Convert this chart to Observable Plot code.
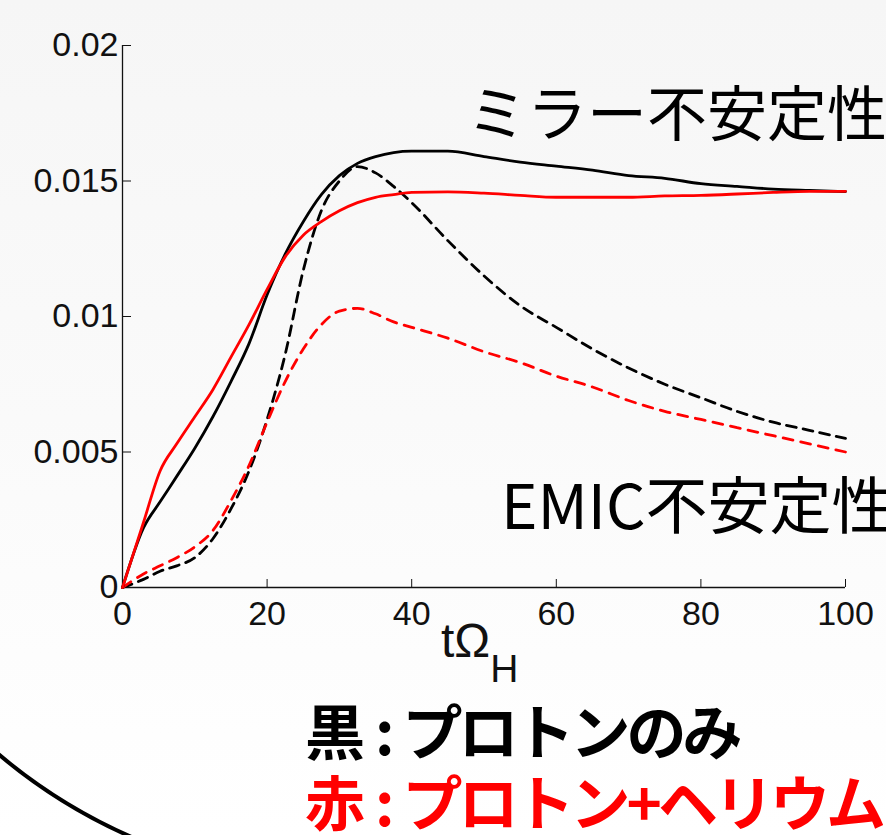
<!DOCTYPE html>
<html>
<head>
<meta charset="utf-8">
<script src="https://cdn.jsdelivr.net/npm/d3@7"></script>
<script src="https://cdn.jsdelivr.net/npm/@observablehq/plot@0.6"></script>
<style>
  html, body { margin: 0; padding: 0; }
  body { width: 886px; height: 835px; overflow: hidden; }
  #wrap { position: relative; width: 886px; height: 835px;
    background: linear-gradient(to bottom, #f6f6f6 0%, #fafafa 50%, #fefefe 88%, #ffffff 100%); }
  #wrap svg { position: absolute; left: 0; top: 0; }
</style>
</head>
<body>
<div id="wrap"></div>
<script>
// time axis tΩH
const tValues = [0, 2.9, 5.2, 7.5, 10, 12.5, 15, 17.5, 20, 22.5, 25, 27.5, 30, 32.5, 35, 37.5, 40, 45, 50, 55, 60, 65, 70, 75, 80, 85, 90, 95, 100];
// black solid: proton only, mirror instability
const protonMirror = [0, 0.0022, 0.00316, 0.0041, 0.00514, 0.0063, 0.0076, 0.0090, 0.0108, 0.0123, 0.0135, 0.0145, 0.0152, 0.01565, 0.0159, 0.01605, 0.0161, 0.0161, 0.0159, 0.0157, 0.01555, 0.0154, 0.0152, 0.0151, 0.0149, 0.0148, 0.0147, 0.01465, 0.01461];
// red solid: proton + helium, mirror instability
const heliumMirror = [0, 0.0024, 0.0043, 0.0053, 0.0063, 0.0073, 0.0085, 0.0097, 0.0110, 0.0122, 0.0130, 0.0135, 0.0139, 0.0142, 0.0144, 0.0145, 0.01458, 0.0146, 0.01455, 0.01447, 0.0144, 0.0144, 0.0144, 0.01445, 0.01447, 0.01452, 0.01458, 0.01462, 0.01462];
// black dashed: proton only, EMIC instability
const protonEMIC = [0, 0.0003, 0.0006, 0.0008, 0.0011, 0.0018, 0.0029, 0.0043, 0.0062, 0.0086, 0.0117, 0.0139, 0.0150, 0.01553, 0.0153, 0.0148, 0.0142, 0.0128, 0.0115, 0.0104, 0.0096, 0.0088, 0.0081, 0.0075, 0.0070, 0.0065, 0.0061, 0.0058, 0.0055];
// red dashed: proton + helium, EMIC instability
const heliumEMIC = [0, 0.0005, 0.0008, 0.0011, 0.0015, 0.0021, 0.0032, 0.0045, 0.0061, 0.0076, 0.0088, 0.0097, 0.0102, 0.0103, 0.0101, 0.0098, 0.0096, 0.0092, 0.0087, 0.0083, 0.0078, 0.0074, 0.0069, 0.0065, 0.0062, 0.0059, 0.0056, 0.0053, 0.0050];

const xTicks = [0, 20, 40, 60, 80, 100];
const yTicks = [0, 0.005, 0.01, 0.015, 0.02];
const yTickLabels = ["0", "0.005", "0.01", "0.015", "0.02"];

const labelMirror = "ミラー不安定性";
const labelEMIC = "EMIC不安定性";
const legendBlackKey = "黒", legendBlackText = "プロトンのみ";
const legendRedKey = "赤", legendRedText = "プロトン+ヘリウム";

const rows = (vals) => tValues.map((t, i) => ({t, v: vals[i]}));

const lineOpts = {x: "t", y: "v", curve: "monotone-x", strokeWidth: 2.8};
const tickFont = "'Liberation Sans', Arial, Helvetica, sans-serif";

const chart = Plot.plot({
  width: 886, height: 835,
  marginLeft: 122, marginRight: 41, marginTop: 45, marginBottom: 248,
  style: {background: "transparent", fontFamily: tickFont, fontSize: "34px", color: "#111", overflow: "visible"},
  x: {domain: [0, 100]},
  y: {domain: [0, 0.02]},
  marks: [
    Plot.axisX({ticks: xTicks, tickSize: -8, tickFormat: () => "", label: null}),
    Plot.axisX({ticks: xTicks, tickSize: 0, tickPadding: 13, tickFormat: d => String(d), label: null, fontSize: 34}),
    Plot.axisY({ticks: yTicks, tickSize: -9, tickFormat: () => "", label: null}),
    Plot.axisY({ticks: yTicks, tickSize: 0, tickPadding: 4, tickFormat: (d, i) => yTickLabels[i], label: null, fontSize: 34}),
    Plot.ruleX([0], {stroke: "#111", strokeWidth: 1.3}),
    Plot.ruleY([0], {stroke: "#111", strokeWidth: 1.3}),
    Plot.line(rows(protonEMIC), {...lineOpts, stroke: "#000", strokeDasharray: "10,7"}),
    Plot.line(rows(heliumEMIC), {...lineOpts, stroke: "#ff0000", strokeDasharray: "10,8"}),
    Plot.line(rows(protonMirror), {...lineOpts, stroke: "#000"}),
    Plot.line(rows(heliumMirror), {...lineOpts, stroke: "#ff0000"})
  ]
});

const wrap = document.getElementById("wrap");
wrap.appendChild(chart);

// annotation overlay
const svg = d3.select(wrap).append("svg")
  .attr("width", 886).attr("height", 835)
  .style("pointer-events", "none");

// decorative arc at bottom-left
svg.append("path")
  .attr("d", "M-22,736 A547,547 0 0,0 164,850")
  .attr("fill", "none").attr("stroke", "#000").attr("stroke-width", 4);

const cjk = "'Noto Sans CJK JP', 'Noto Sans', sans-serif";

// axis label tΩH
const axl = svg.append("text").attr("x", 441).attr("y", 657)
  .attr("font-family", tickFont).attr("font-size", 48).attr("fill", "#111");
axl.append("tspan").text("tΩ");
axl.append("tspan").attr("dy", 25).attr("font-size", 39).text("H");

svg.append("text").attr("x", 467).attr("y", 136)
  .attr("font-family", cjk).attr("font-size", 60).attr("font-weight", 400)
  .attr("fill", "#000").text(labelMirror);

svg.append("text").attr("x", 501).attr("y", 529)
  .attr("font-family", cjk).attr("font-size", 62).attr("font-weight", 400)
  .attr("fill", "#000").text(labelEMIC);

function legendLine(y, key, text, color) {
  const t = svg.append("text").attr("x", 305).attr("y", y)
    .attr("font-family", cjk).attr("font-size", 60).attr("font-weight", 700)
    .attr("fill", color).style("letter-spacing", "-4px");
  t.append("tspan").text(key);
  t.append("tspan").attr("dx", 14).text(":");
  t.append("tspan").attr("dx", 12).text(text);
}
legendLine(755, legendBlackKey, legendBlackText, "#000");
legendLine(826, legendRedKey, legendRedText, "#ff0000");
</script>
</body>
</html>
